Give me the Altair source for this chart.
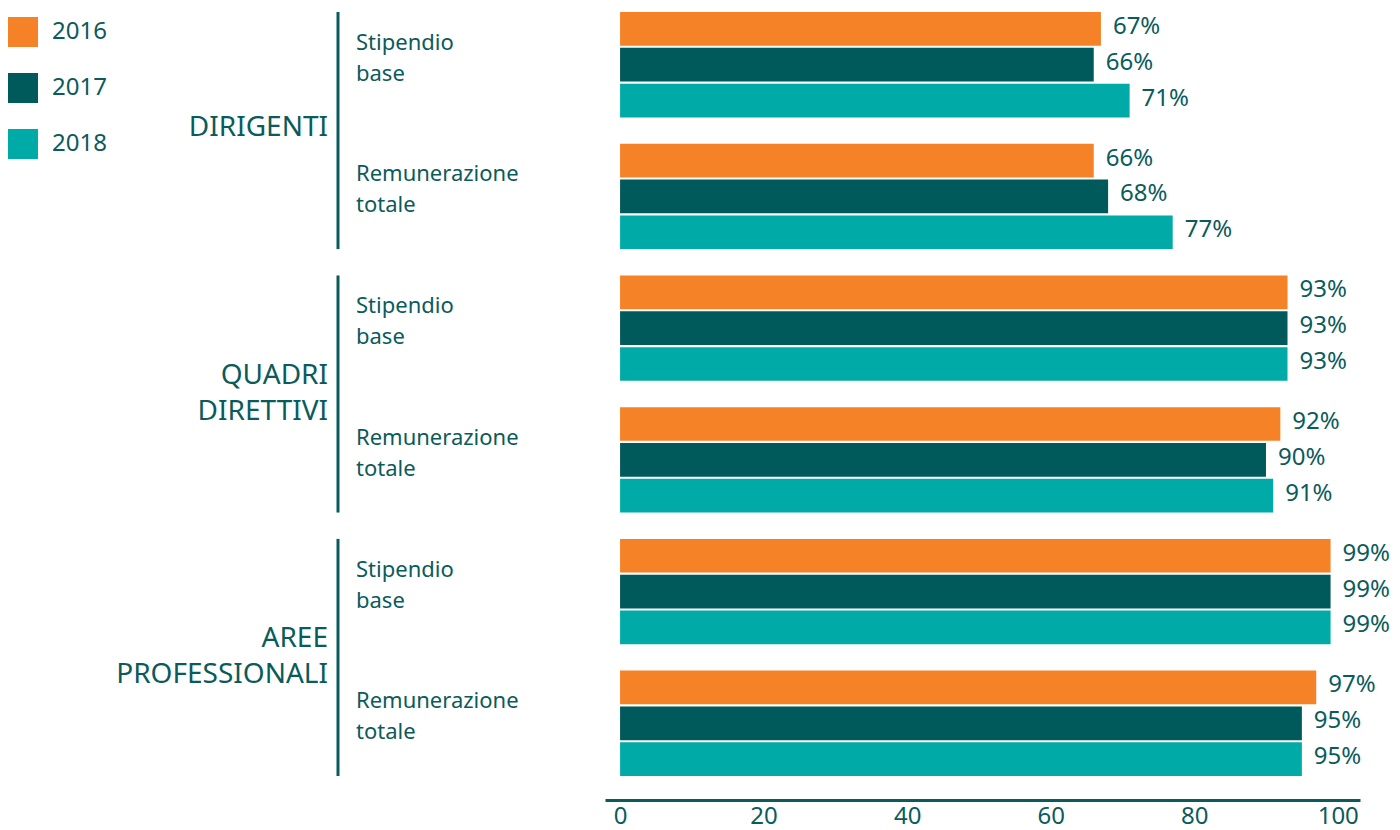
import altair as alt
import pandas as pd

# Categories and values
groups = ["DIRIGENTI", "QUADRI DIRETTIVI", "AREE PROFESSIONALI"]
group_lines = ["DIRIGENTI", "QUADRI\nDIRETTIVI", "AREE\nPROFESSIONALI"]
subs = ["Stipendio base", "Remunerazione totale"]
sub_lines = ["Stipendio\nbase", "Remunerazione\ntotale"]
years = ["2016", "2017", "2018"]
# one value per (group, sub) in order: DIR-base, DIR-tot, QD-base, QD-tot, AP-base, AP-tot
values_2016 = [67, 66, 93, 92, 99, 97]
values_2017 = [66, 68, 93, 90, 99, 95]
values_2018 = [71, 77, 93, 91, 99, 95]
x_ticks = [0, 20, 40, 60, 80, 100]

colors = ["#F58226", "#00595A", "#00AAA6"]
ink = "#0B5B5B"
font = "Noto Sans"

keys = [f"{g}|{s}" for g in groups for s in subs]
series = {"2016": values_2016, "2017": values_2017, "2018": values_2018}

rows = []
for yr in years:
    for k, v in zip(keys, series[yr]):
        rows.append({"key": k, "year": yr, "value": v, "label": f"{v}%"})
bars_df = pd.DataFrame(rows)

sub_df = pd.DataFrame(
    [{"key": f"{g}|{s}", "text": sl} for g in groups for s, sl in zip(subs, sub_lines)]
)
grp_df = pd.DataFrame(
    [
        {
            "key": f"{g}|{subs[0]}",
            "key2": f"{g}|{subs[1]}",
            "text": gl,
            "lines": gl.count("\n") + 1,
        }
        for g, gl in zip(groups, group_lines)
    ]
)

y_scale = alt.Scale(domain=keys, paddingInner=0.2, paddingOuter=0)
y_enc = alt.Y("key:N", scale=y_scale, axis=None, sort=keys)
y_off = alt.YOffset(
    "year:N", scale=alt.Scale(domain=years, paddingInner=0.06, paddingOuter=0), sort=years
)
x_scale = alt.Scale(domain=[-2.1, 103.1], nice=False, zero=False)

bars = alt.Chart(bars_df).mark_bar().encode(
    x=alt.X(
        "value:Q",
        scale=x_scale,
        axis=alt.Axis(
            values=x_ticks,
            title=None,
            grid=False,
            ticks=False,
            domainColor=ink,
            domainWidth=3,
            labelFontSize=24,
            labelColor=ink,
            labelFont=font,
            labelPadding=4,
            offset=24,
            labelFlush=False,
        ),
    ),
    y=y_enc,
    yOffset=y_off,
    color=alt.Color(
        "year:N",
        scale=alt.Scale(domain=years, range=colors),
        legend=alt.Legend(
            title=None,
            orient="none",
            legendX=-597,
            legendY=5,
            symbolType="square",
            symbolSize=900,
            symbolStrokeWidth=0,
            symbolOpacity=1,
            labelFontSize=24,
            labelFont=font,
            labelColor=ink,
            labelOffset=14,
            rowPadding=26,
        ),
    ),
)

value_labels = alt.Chart(bars_df).mark_text(
    align="left", baseline="middle", dx=12, dy=-2, fontSize=24, font=font, color=ink
).encode(x=alt.X("value:Q", scale=x_scale), y=y_enc, yOffset=y_off, text="label:N")

sub_labels = alt.Chart(sub_df).mark_text(
    align="left", baseline="middle", lineBreak="\n", lineHeight=31,
    fontSize=22, font=font, color=ink, dy=-22,
).encode(x=alt.value(-249), y=alt.Y("key:N", scale=y_scale, axis=None, sort=keys), text="text:N")


def group_label_layer(n_lines, dy):
    return (
        alt.Chart(grp_df)
        .transform_filter(alt.datum.lines == n_lines)
        .mark_text(
            align="right", baseline="middle", lineBreak="\n", lineHeight=36,
            fontSize=28, font=font, color=ink, dy=dy,
        )
        .encode(
            x=alt.value(-277),
            y=alt.Y("key:N", scale=y_scale, axis=None, sort=keys, bandPosition=1),
            text="text:N",
        )
    )


grp_single = group_label_layer(1, 11)
grp_double = group_label_layer(2, -5)

grp_rules = alt.Chart(grp_df).mark_rule(color=ink, strokeWidth=3).encode(
    x=alt.value(-267),
    y=alt.Y("key:N", scale=y_scale, axis=None, sort=keys, bandPosition=0),
    y2=alt.Y2("key2:N", bandPosition=1),
)

chart = (
    alt.layer(bars, value_labels, sub_labels, grp_single, grp_double, grp_rules)
    .properties(
        width=755,
        height=764,
        padding={"left": 605, "top": 12, "right": 40, "bottom": 54},
        autosize=alt.AutoSizeParams(type="none"),
        background="white",
    )
    .configure_view(stroke=None, strokeWidth=0)
)

chart.save("out.html", embed_options={"renderer": "svg", "actions": False})
